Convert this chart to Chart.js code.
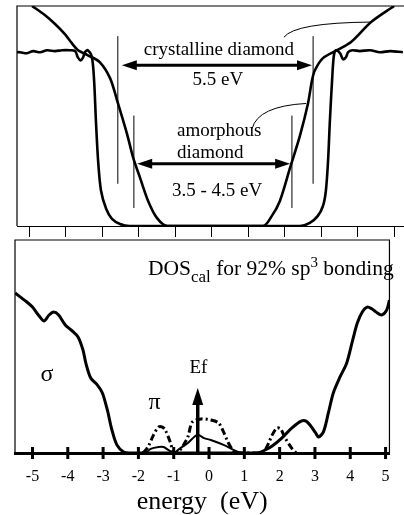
<!DOCTYPE html>
<html>
<head>
<meta charset="utf-8">
<script src="https://cdn.jsdelivr.net/npm/chart.js@4.4.0/dist/chart.umd.min.js"></script>
<style>
  html, body { margin: 0; padding: 0; background: #fff; overflow: hidden; }
  #wrap { position: relative; width: 404px; height: 515px; }
  #top { position: absolute; left: 0; top: 0; }
  #bot { position: absolute; left: 0; top: 230px; }
</style>
</head>
<body>
<div id="wrap">
  <canvas id="top" width="404" height="240"></canvas>
  <canvas id="bot" width="404" height="285"></canvas>
</div>
<script>
// ---- top panel: two DOS curves (energy in eV, DOS in arbitrary units)
var crysE   = [-5.34, -5.26, -5.07, -4.90, -4.71, -4.52, -4.30, -4.11, -3.89, -3.75, -3.67, -3.60, -3.53, -3.48, -3.40,
               -3.29, -3.23, -3.18, -3.12, -3.04, -2.90, -2.74, -2.52, -2.25,
               2.41, 2.68, 2.90, 3.04, 3.12, 3.18, 3.23, 3.29, 3.34, 3.40, 3.51, 3.59, 3.67, 3.73, 3.84,
               4.05, 4.33, 4.60, 4.88, 5.23];
var crysDOS = [79.0, 79.0, 78.5, 79.5, 79.0, 79.9, 79.5, 79.9, 79.9, 79.5, 76.5, 75.3, 76.7, 79.0, 79.9,
               76.7, 66.2, 47.9, 29.7, 16.0, 7.8, 3.2, 0.9, 0,
               0, 1.4, 4.6, 9.1, 16.0, 29.7, 47.9, 66.2, 77.6, 79.9, 78.5, 75.8, 76.7, 79.0, 79.9,
               79.5, 79.9, 79.0, 79.5, 79.0];
var amorE   = [-4.93, -4.58, -4.30, -4.03, -3.84, -3.67, -3.40, -3.07, -2.79, -2.60, -2.33, -2.16, -1.97, -1.75, -1.51, -1.23,
               1.40, 1.64, 1.86, 2.14, 2.41, 2.63, 2.74, 2.82, 3.04, 3.42, 3.81, 4.36, 4.99];
var amorDOS = [100, 95.9, 91.8, 87.2, 83.1, 79.9, 77.6, 74.4, 67.1, 57.1, 42.0, 31.1, 21.9, 11.4, 3.7, 0,
               0, 4.6, 11.4, 26.5, 41.1, 55.7, 66.2, 70.8, 76.3, 79.9, 83.6, 92.7, 100];
var topTicks = [-5, -4, -3, -2, -1, 0, 1, 2, 3, 4, 5];

// ---- bottom panel: calculated DOS
var sigmaE   = [-5.49, -5.16, -5.00, -4.81, -4.67, -4.53, -4.40, -4.26, -4.07, -3.90, -3.71, -3.57, -3.49, -3.35, -3.16,
                -3.02, -2.88, -2.75, -2.61, -2.42, -2.25,
                1.37, 1.59, 1.79, 2.06, 2.34, 2.61, 2.75, 2.88, 3.02, 3.10, 3.24, 3.38, 3.52, 3.71, 3.90, 4.07, 4.20,
                4.34, 4.48, 4.62, 4.73, 4.89, 5.03, 5.11];
var sigmaDOS = [75.1, 70.9, 68.5, 64.3, 62.0, 64.8, 66.2, 64.8, 60.1, 57.7, 54.5, 48.4, 42.3, 35.2, 31.9,
                28.2, 20.2, 10.8, 3.8, 0.5, 0,
                0, 1.4, 3.3, 7.0, 11.7, 15.0, 15.0, 12.7, 9.4, 7.5, 9.9, 18.8, 28.2, 35.7, 42.3, 53.1, 61.0,
                66.2, 68.5, 67.6, 66.2, 64.8, 67.1, 71.8];
var piE      = [-1.79, -1.65, -1.43, -1.29, -1.10, -0.96, -0.88, -0.60, -0.33, -0.14, 0.05, 0.41, 0.77, 0.91];
var piDOS    = [0, 1.9, 2.8, 2.8, 0.9, 0, 1.4, 4.7, 8.5, 7.0, 6.1, 3.8, 0.9, 0];
var dashE    = [-1.87, -1.73, -1.57, -1.43, -1.32, -1.24, -1.10, -0.99, -0.82, -0.69, -0.60, -0.47, -0.22, 0.05, 0.27,
                0.41, 0.55, 0.69, 0.77, 1.51, 1.65, 1.79, 1.92, 2.03, 2.14, 2.34, 2.47];
var dashDOS  = [0, 2.8, 8.5, 12.2, 12.2, 10.8, 5.2, 0, 1.4, 4.7, 7.5, 14.6, 16.0, 15.5, 14.1,
                9.9, 4.7, 0.9, 0, 0, 3.3, 8.5, 11.7, 11.3, 7.5, 2.3, 0];
var fermiE = -0.32;
var tickVals = [-5, -4, -3, -2, -1, 0, 1, 2, 3, 4, 5];
var tickLabels = ['-5', '-4', '-3', '-2', '-1', '0', '1', '2', '3', '4', '5'];

var SERIF = '"Liberation Serif", "DejaVu Serif", serif';

function pts(xs, ys) {
    return xs.map(function (x, i) { return { x: x, y: ys[i] }; });
}

function arrow2(ctx, x1, x2, y, lw, hl, hw) {
    ctx.lineWidth = lw;
    ctx.beginPath();
    ctx.moveTo(x1 + hl - 1, y);
    ctx.lineTo(x2 - hl + 1, y);
    ctx.stroke();
    ctx.beginPath();
    ctx.moveTo(x1, y); ctx.lineTo(x1 + hl, y - hw); ctx.lineTo(x1 + hl, y + hw); ctx.closePath();
    ctx.fill();
    ctx.beginPath();
    ctx.moveTo(x2, y); ctx.lineTo(x2 - hl, y - hw); ctx.lineTo(x2 - hl, y + hw); ctx.closePath();
    ctx.fill();
}

// frame + labels of the top panel
var topDecor = {
    id: 'topDecor',
    afterDatasetsDraw: function (chart) {
        var ctx = chart.ctx, a = chart.chartArea;
        var X = function (v) { return chart.scales.x.getPixelForValue(v); };
        var Y = function (v) { return chart.scales.y.getPixelForValue(v); };
        ctx.save();
        ctx.strokeStyle = '#000';
        ctx.fillStyle = '#000';
        // frame
        ctx.lineWidth = 1.2;
        ctx.beginPath();
        ctx.moveTo(a.left, a.bottom); ctx.lineTo(a.left, a.top); ctx.lineTo(chart.width, a.top);
        ctx.stroke();
        // gap markers
        ctx.lineWidth = 1;
        [[-2.58, 86.3, 19.2], [2.77, 86.3, 19.2], [-2.14, 50.2, 8.2], [2.19, 50.2, 8.2]].forEach(function (m) {
            ctx.beginPath();
            ctx.moveTo(X(m[0]), Y(m[1])); ctx.lineTo(X(m[0]), Y(m[2]));
            ctx.stroke();
        });
        arrow2(ctx, X(-2.47), X(2.74), Y(73.1), 3, 15, 5);
        arrow2(ctx, X(-2.05), X(2.14), Y(28.3), 3, 15, 5);
        // leader lines
        ctx.lineWidth = 1;
        ctx.beginPath();
        ctx.moveTo(X(1.97), Y(85.8));
        ctx.quadraticCurveTo(X(2.27), Y(92.4), X(4.36), Y(92.7));
        ctx.stroke();
        ctx.beginPath();
        ctx.moveTo(X(1.10), Y(44.3));
        ctx.quadraticCurveTo(X(1.26), Y(54.5), X(2.58), Y(55.7));
        ctx.stroke();
        // texts
        ctx.font = '19px ' + SERIF;
        ctx.textBaseline = 'middle';
        ctx.textAlign = 'center';
        ctx.fillText('crystalline diamond', X(0.19), Y(79.9));
        ctx.fillText('5.5 eV', X(0.16), Y(66.2));
        ctx.fillText('3.5 - 4.5 eV', X(0.14), Y(16.0));
        ctx.textAlign = 'left';
        ctx.fillText('amorphous', X(-0.96), Y(43.4));
        ctx.fillText('diamond', X(-0.96), Y(33.3));
        ctx.restore();
    }
};

new Chart(document.getElementById('top'), {
    type: 'line',
    data: {
        datasets: [
            { data: pts(crysE, crysDOS), borderColor: '#000', borderWidth: 2.6, pointRadius: 0, tension: 0.3, fill: false },
            { data: pts(amorE, amorDOS), borderColor: '#000', borderWidth: 2.6, pointRadius: 0, tension: 0.3, fill: false }
        ]
    },
    options: {
        responsive: false,
        animation: false,
        events: [],
        layout: { padding: { left: 17, right: 1, top: 6, bottom: 3 } },
        plugins: { legend: { display: false }, tooltip: { enabled: false } },
        scales: {
            x: {
                type: 'linear', min: -5.342, max: 5.233,
                afterBuildTicks: function (ax) { ax.ticks = topTicks.map(function (v) { return { value: v }; }); },
                ticks: { display: false },
                grid: { drawOnChartArea: false, drawTicks: true, tickLength: 11, tickColor: '#000', tickWidth: 1 },
                border: { display: true, color: '#000', width: 1 }
            },
            y: { display: false, min: 0, max: 100 }
        }
    },
    plugins: [topDecor]
});

// frame, ticks, Fermi arrow and labels of the bottom panel
var botDecor = {
    id: 'botDecor',
    afterDatasetsDraw: function (chart) {
        var ctx = chart.ctx, a = chart.chartArea;
        var X = function (v) { return chart.scales.x.getPixelForValue(v); };
        var Y = function (v) { return chart.scales.y.getPixelForValue(v); };
        ctx.save();
        ctx.strokeStyle = '#000';
        ctx.fillStyle = '#000';
        ctx.lineWidth = 1.2;
        ctx.beginPath();
        ctx.moveTo(a.left, a.bottom); ctx.lineTo(a.left, a.top); ctx.lineTo(a.right, a.top); ctx.lineTo(a.right, a.bottom);
        ctx.stroke();
        // tick crosses on the baseline
        ctx.lineWidth = 3;
        chart.scales.x.ticks.forEach(function (t) {
            var px = X(t.value);
            ctx.beginPath();
            ctx.moveTo(px, a.bottom - 6); ctx.lineTo(px, a.bottom + 6);
            ctx.stroke();
        });
        // Fermi level arrow
        var fx = X(fermiE);
        ctx.lineWidth = 3.5;
        ctx.beginPath();
        ctx.moveTo(fx, a.bottom); ctx.lineTo(fx, Y(24));
        ctx.stroke();
        ctx.beginPath();
        ctx.moveTo(fx, Y(30.5)); ctx.lineTo(fx - 5.5, Y(22.5)); ctx.lineTo(fx + 5.5, Y(22.5)); ctx.closePath();
        ctx.fill();
        // labels
        ctx.textBaseline = 'middle';
        ctx.textAlign = 'center';
        ctx.font = '19px ' + SERIF;
        ctx.fillText('Ef', X(-0.30), Y(39.9));
        ctx.font = '24px ' + SERIF;
        ctx.fillText('\u03C3', X(-4.59), Y(36.6));
        ctx.fillText('\u03C0', X(-1.54), Y(23.5));
        // DOS_cal for 92% sp3 bonding
        ctx.textAlign = 'left';
        ctx.textBaseline = 'alphabetic';
        var x0 = X(-1.73), yb = Y(83.6);
        ctx.font = '21.5px ' + SERIF;
        ctx.fillText('DOS', x0, yb); x0 += ctx.measureText('DOS').width;
        ctx.font = '17px ' + SERIF;
        ctx.fillText('cal', x0, yb + 7); x0 += ctx.measureText('cal').width;
        ctx.font = '21.5px ' + SERIF;
        ctx.fillText(' for 92% sp', x0, yb); x0 += ctx.measureText(' for 92% sp').width;
        ctx.font = '15px ' + SERIF;
        ctx.fillText('3', x0, yb - 8); x0 += ctx.measureText('3').width;
        ctx.font = '21.5px ' + SERIF;
        ctx.fillText(' bonding', x0, yb);
        ctx.restore();
    }
};

new Chart(document.getElementById('bot'), {
    type: 'line',
    data: {
        datasets: [
            { data: pts(sigmaE, sigmaDOS), borderColor: '#000', borderWidth: 3, pointRadius: 0, tension: 0.3, fill: false },
            { data: pts(piE, piDOS), borderColor: '#000', borderWidth: 2, pointRadius: 0, tension: 0.3, fill: false },
            { data: pts(dashE, dashDOS), borderColor: '#000', borderWidth: 3, borderDash: [7, 3, 2, 3], pointRadius: 0, tension: 0.3, fill: false }
        ]
    },
    options: {
        responsive: false,
        animation: false,
        events: [],
        layout: { padding: { left: 15, right: 3, top: 10, bottom: 0 } },
        plugins: { legend: { display: false }, tooltip: { enabled: false } },
        scales: {
            x: {
                type: 'linear', min: -5.495, max: 5.11,
                afterBuildTicks: function (ax) { ax.ticks = tickVals.map(function (v) { return { value: v }; }); },
                grid: { display: false, drawTicks: false },
                border: { display: true, color: '#000', width: 3 },
                ticks: {
                    color: '#000', padding: 14.4,
                    font: { family: SERIF, size: 16 },
                    callback: function (v, i) { return tickLabels[i]; }
                },
                title: {
                    display: true, text: 'energy  (eV)', color: '#000',
                    font: { family: SERIF, size: 26, lineHeight: 1.0 },
                    padding: { top: -12, bottom: 0 }
                }
            },
            y: { display: false, min: 0, max: 100 }
        }
    },
    plugins: [botDecor]
});
</script>
</body>
</html>
